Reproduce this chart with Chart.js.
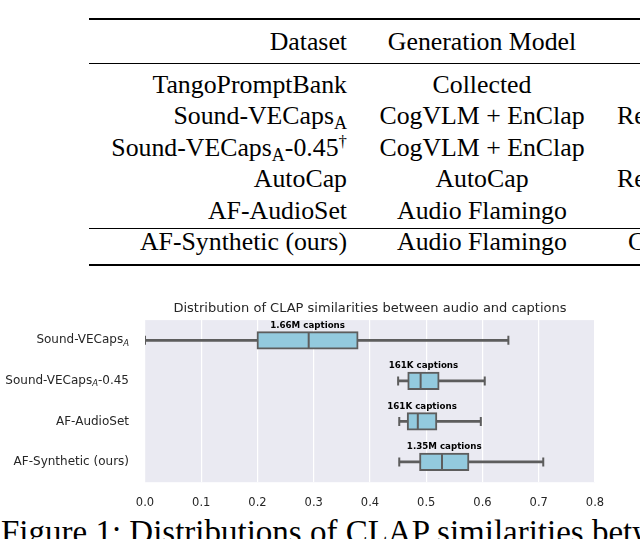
<!DOCTYPE html>
<html>
<head>
<meta charset="utf-8">
<script src="https://cdn.jsdelivr.net/npm/chart.js@4.4.1/dist/chart.umd.min.js"></script>
<style>
  html, body { margin: 0; padding: 0; background: #fff; }
  body { width: 640px; height: 539px; position: relative; overflow: hidden; }
  .rule { position: absolute; left: 89px; right: 0; background: #000; }
  .cell { position: absolute; font-family: "Liberation Serif", "Times New Roman", serif; font-size: 25.8px; line-height: 31.6px; color: #000; white-space: nowrap; }
  .cell sub { font-size: 70%; vertical-align: -0.3em; line-height: 0; }
  .cell sup { font-size: 65%; vertical-align: 0.55em; line-height: 0; }
  #caption { position: absolute; left: 1px; top: 514px; font-family: "Liberation Serif", "Times New Roman", serif; font-size: 33px; line-height: 36px; white-space: nowrap; color: #000; }
  #chartBox { position: absolute; left: 0; top: 290px; width: 640px; height: 240px; }
</style>
</head>
<body>
<div id="tabela"></div>
<div id="caption">Figure 1: Distributions of CLAP similarities between audio and captions</div>
<div id="chartBox"><canvas id="grafico"></canvas></div>

<script>
// tabela acima da figura
const tabelaCabecalho = ['Dataset', 'Generation Model', ''];
const tabelaDatasets = ['TangoPromptBank', 'Sound-VECaps_A', 'Sound-VECaps_A-0.45^†', 'AutoCap', 'AF-AudioSet', 'AF-Synthetic (ours)'];
const tabelaModelos = ['Collected', 'CogVLM + EnClap', 'CogVLM + EnClap', 'AutoCap', 'Audio Flamingo', 'Audio Flamingo'];
const tabelaTerceira = ['', 'Re', '', 'Re', '', 'C'];

// dados do boxplot
const categorias = ['Sound-VECaps_A', 'Sound-VECaps_A-0.45', 'AF-AudioSet', 'AF-Synthetic (ours)'];
const bigodeMin = [0.0, 0.450, 0.452, 0.452];
const quartil1 = [0.199, 0.467, 0.466, 0.488];
const mediana = [0.291, 0.490, 0.485, 0.528];
const quartil3 = [0.379, 0.523, 0.519, 0.576];
const bigodeMax = [0.646, 0.604, 0.597, 0.708];
const contagens = ['1.66M captions', '161K captions', '161K captions', '1.35M captions'];
const ticksX = [0.0, 0.1, 0.2, 0.3, 0.4, 0.5, 0.6, 0.7, 0.8];

const CINZA = '#5d5d5d';
const AZUL = '#93cade';
const TEXTO = '#262626';

function formatarTexto(s) {
  return s.replace('_A', '<sub>A</sub>').replace('^†', '<sup>†</sup>');
}

function montarTabela() {
  const tabela = document.getElementById('tabela');
  const regras = [[18, 2], [62.5, 1.3], [227.8, 1.1], [264, 2]];
  regras.forEach(([y, h]) => {
    const r = document.createElement('div');
    r.className = 'rule';
    r.style.top = y + 'px';
    r.style.height = h + 'px';
    tabela.appendChild(r);
  });

  const linhas = [tabelaCabecalho].concat(tabelaDatasets.map((d, i) => [d, tabelaModelos[i], tabelaTerceira[i]]));
  const bases = [50, 93, 124.6, 156.2, 187.8, 219.4, 250];

  linhas.forEach((linha, i) => {
    const topo = bases[i] - 24.5;
    const c1 = document.createElement('div');
    c1.className = 'cell';
    c1.style.top = topo + 'px';
    c1.style.right = (640 - 347) + 'px';
    c1.innerHTML = formatarTexto(linha[0]);
    tabela.appendChild(c1);

    const c2 = document.createElement('div');
    c2.className = 'cell';
    c2.style.top = topo + 'px';
    c2.style.left = '357px';
    c2.style.width = '250px';
    c2.style.textAlign = 'center';
    c2.innerHTML = formatarTexto(linha[1]);
    tabela.appendChild(c2);

    if (linha[2]) {
      const c3 = document.createElement('div');
      c3.className = 'cell';
      c3.style.top = topo + 'px';
      c3.style.left = (linha[2] === 'C' ? 628 : 617) + 'px';
      c3.innerHTML = linha[2];
      tabela.appendChild(c3);
    }
  });
}

const fundoPlot = {
  id: 'fundoPlot',
  beforeDraw(chart) {
    const { ctx, chartArea } = chart;
    ctx.save();
    ctx.fillStyle = '#eaeaf2';
    ctx.fillRect(chartArea.left, chartArea.top, chartArea.right - chartArea.left, chartArea.bottom - chartArea.top);
    ctx.restore();
  }
};

// rotulos do eixo y com subscrito italico
const rotulosY = {
  id: 'rotulosY',
  afterDraw(chart) {
    const { ctx, chartArea, scales } = chart;
    const fonteNormal = '12px "DejaVu Sans"';
    const fonteSub = 'italic 8.5px "DejaVu Sans"';
    ctx.save();
    ctx.fillStyle = TEXTO;
    ctx.textBaseline = 'middle';
    categorias.forEach((cat, i) => {
      const y = scales.y.getPixelForValue(i);
      const partes = cat.split('_A');
      let pedacos = [];
      partes.forEach((p, k) => {
        if (p) pedacos.push({ t: p, f: fonteNormal, dy: 0 });
        if (k < partes.length - 1) pedacos.push({ t: 'A', f: fonteSub, dy: 3 });
      });
      let largura = 0;
      pedacos.forEach(p => { ctx.font = p.f; p.w = ctx.measureText(p.t).width; largura += p.w; });
      let x = chartArea.left - 16 - largura;
      ctx.textAlign = 'left';
      pedacos.forEach(p => {
        ctx.font = p.f;
        ctx.fillText(p.t, x, y + p.dy);
        x += p.w;
      });
    });
    ctx.restore();
  }
};

// contagem de legendas acima de cada caixa
const rotulosContagem = {
  id: 'rotulosContagem',
  afterDatasetsDraw(chart) {
    const { ctx, scales } = chart;
    ctx.save();
    ctx.font = 'bold 8.7px "DejaVu Sans"';
    ctx.fillStyle = '#000';
    ctx.textAlign = 'center';
    ctx.textBaseline = 'middle';
    contagens.forEach((txt, i) => {
      const x = scales.x.getPixelForValue((quartil1[i] + quartil3[i]) / 2);
      const y = scales.y.getPixelForValue(i) - 15;
      ctx.fillText(txt, x, y);
    });
    ctx.restore();
  }
};

function gerarGrafico() {
  const ctx = document.getElementById('grafico');
  new Chart(ctx, {
    type: 'bar',
    data: {
      labels: categorias,
      datasets: [
        {
          label: 'mediana',
          type: 'line',
          indexAxis: 'y',
          data: mediana,
          showLine: false,
          pointStyle: 'line',
          rotation: 90,
          pointRadius: 8,
          pointHoverRadius: 8,
          pointBorderWidth: 2,
          borderColor: CINZA,
          order: 1
        },
        {
          label: 'min',
          type: 'line',
          indexAxis: 'y',
          data: bigodeMin,
          showLine: false,
          pointStyle: 'line',
          rotation: 90,
          pointRadius: 4.5,
          pointHoverRadius: 4.5,
          pointBorderWidth: 2,
          borderColor: CINZA,
          order: 2
        },
        {
          label: 'max',
          type: 'line',
          indexAxis: 'y',
          data: bigodeMax,
          showLine: false,
          pointStyle: 'line',
          rotation: 90,
          pointRadius: 4.5,
          pointHoverRadius: 4.5,
          pointBorderWidth: 2,
          borderColor: CINZA,
          order: 2
        },
        {
          label: 'caixa',
          data: quartil1.map((v, i) => [v, quartil3[i]]),
          backgroundColor: AZUL,
          borderColor: CINZA,
          borderWidth: 2,
          borderSkipped: false,
          barThickness: 17.5,
          grouped: false,
          order: 3
        },
        {
          label: 'bigode',
          data: bigodeMin.map((v, i) => [v, bigodeMax[i]]),
          backgroundColor: CINZA,
          borderWidth: 0,
          barThickness: 2,
          grouped: false,
          order: 4
        }
      ]
    },
    options: {
      indexAxis: 'y',
      responsive: true,
      maintainAspectRatio: false,
      animation: false,
      layout: { padding: { left: 145, right: 45, top: 0, bottom: 6 } },
      plugins: {
        legend: { display: false },
        tooltip: { enabled: false },
        title: {
          display: true,
          text: 'Distribution of CLAP similarities between audio and captions',
          color: TEXTO,
          font: { family: 'DejaVu Sans', size: 13, weight: 'normal' },
          padding: { top: 11, bottom: 3.5 }
        }
      },
      scales: {
        x: {
          type: 'linear',
          min: 0,
          max: 0.8,
          afterBuildTicks: (eixo) => { eixo.ticks = ticksX.map(v => ({ value: v })); },
          ticks: {
            color: TEXTO,
            font: { family: 'DejaVu Sans', size: 11.5 },
            padding: 14,
            callback: (v) => Number(v).toFixed(1)
          },
          grid: { color: '#ffffff', lineWidth: 1.2, drawTicks: false },
          border: { display: false }
        },
        y: {
          type: 'category',
          display: false,
          offset: true,
          grid: { display: false }
        }
      }
    },
    plugins: [fundoPlot, rotulosY, rotulosContagem]
  });
}

montarTabela();
gerarGrafico();
</script>
</body>
</html>
